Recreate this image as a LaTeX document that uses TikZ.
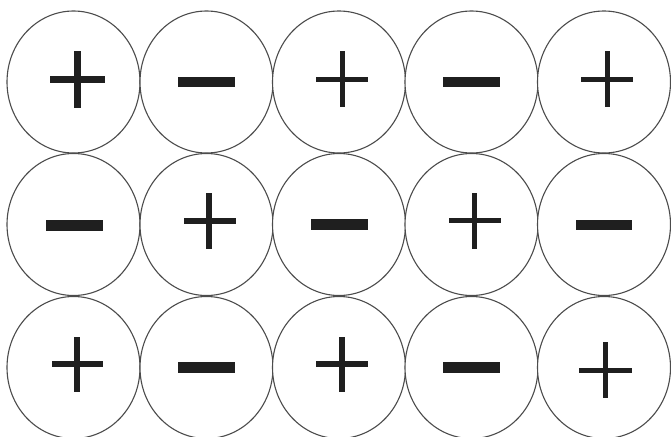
\documentclass[tikz,border=0pt]{standalone}
\usetikzlibrary{shapes.geometric}
\begin{document}
\begin{tikzpicture}[x=1pt,y=-1pt,
  ball/.style={ellipse,draw=black!70,line width=1.1pt,fill=white,minimum width=133pt,minimum height=142pt,inner sep=0pt},
  sign/.style={fill=black!88}]
\useasboundingbox (0,0) rectangle (671,436);
\fill[white] (0,0) rectangle (671,436);
% circles
\foreach \r/\yy in {1/82,2/224.5,3/367.5}{
  \foreach \c/\xx in {1/73.5,2/206.5,3/339,4/471.5,5/604}{
    \node[ball] (c\r\c) at (\xx,\yy) {};
  }
}
% plus: cx, cy(horizontal bar), w, top, bottom, vertical-x, t
\newcommand\chgplus[7]{%
  \fill[sign] (#1-#3/2,#2-#7/2) rectangle (#1+#3/2,#2+#7/2);
  \fill[sign] (#6-#7/2,#4) rectangle (#6+#7/2,#5);}
% minus: x1, x2, cy, t
\newcommand\chgminus[4]{%
  \fill[sign] (#1,#3-#4/2) rectangle (#2,#3+#4/2);}
% row 1
\chgplus{77.5}{79.5}{55}{51}{108}{77.5}{7.5}
\chgminus{178}{235}{82}{10}
\chgplus{342}{79}{52}{51}{107}{342}{5}
\chgminus{443}{500}{82}{10}
\chgplus{607}{79}{52}{51}{107}{607}{5}
% row 2
\chgminus{46}{103}{225}{11}
\chgplus{210}{221}{52}{193}{249}{209}{5.5}
\chgminus{310.5}{368}{224.5}{11}
\chgplus{475}{220.7}{52}{193}{249}{474.3}{5.5}
\chgminus{576}{632}{225}{10}
% row 3
\chgplus{77.5}{364}{51}{337}{392}{77}{5.5}
\chgminus{178}{235}{367.5}{11}
\chgplus{342}{364}{52}{337}{392}{342}{5.5}
\chgminus{443}{500}{367.5}{11}
\chgplus{605.5}{370}{53}{342}{398}{605}{5}
\end{tikzpicture}
\end{document}
